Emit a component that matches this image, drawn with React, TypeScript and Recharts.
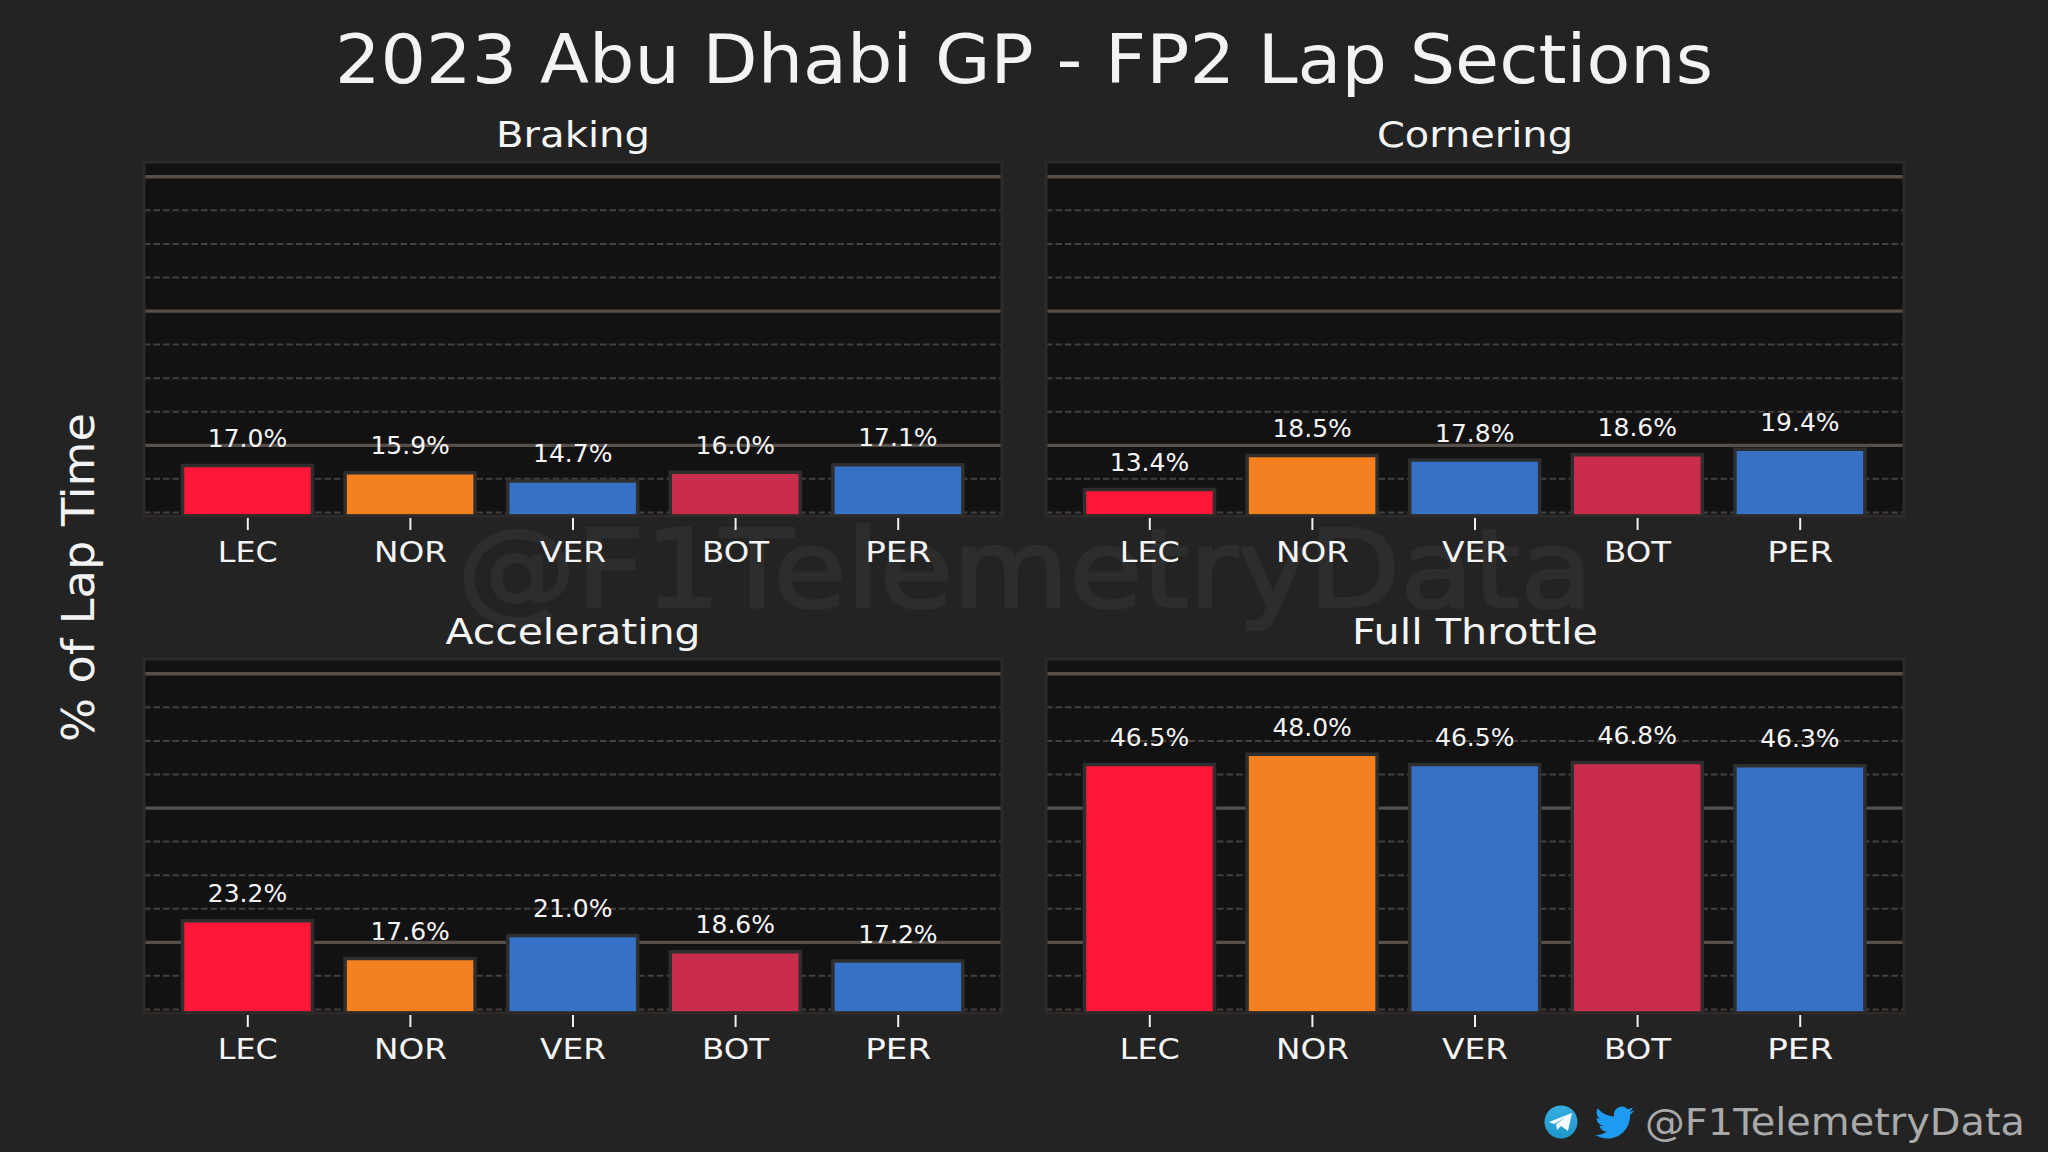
import { Bar, BarChart, CartesianGrid, Cell, LabelList, XAxis, YAxis } from "recharts";

const drivers = ["LEC", "NOR", "VER", "BOT", "PER"];
const driverColors = ["#ff1738", "#f58020", "#3671c6", "#c92d4b", "#3671c6"];

const brakingValues = [17.0, 15.9, 14.7, 16.0, 17.1];
const corneringValues = [13.4, 18.5, 17.8, 18.6, 19.4];
const acceleratingValues = [23.2, 17.6, 21.0, 18.6, 17.2];
const fullThrottleValues = [46.5, 48.0, 46.5, 46.8, 46.3];

const majorTicks = [20, 40, 60];
const minorTicks = [10, 15, 25, 30, 35, 45, 50, 55];
const yDomain = [9.47, 62.2];

const FONT = '"DejaVu Sans", sans-serif';
const PLOT_W = 858;
const PLOT_H = 354;
const PAD_X = 44;
const PAD_TOP = 20;
const AXIS_H = 70;

const tickWidths: Record<string, number> = { LEC: 60, NOR: 73, VER: 66, BOT: 67, PER: 66 };

const panels = [
  { title: "Braking", values: brakingValues, x: 144, y: 162, titleY: 147, titleW: 154 },
  { title: "Cornering", values: corneringValues, x: 1046, y: 162, titleY: 147, titleW: 196 },
  { title: "Accelerating", values: acceleratingValues, x: 144, y: 659, titleY: 643.5, titleW: 255 },
  { title: "Full Throttle", values: fullThrottleValues, x: 1046, y: 659, titleY: 643.5, titleW: 246 },
];

function DriverTick({ x, y, payload }: any) {
  const label = payload.value;
  return (
    <g>
      <line x1={x} x2={x} y1={y + 2} y2={y + 14} stroke="#f0f0f0" strokeWidth={2} />
      <text
        x={x}
        y={y + 46}
        textAnchor="middle"
        fill="#f5f5f5"
        fontSize={29}
        fontFamily={FONT}
        textLength={tickWidths[label]}
        lengthAdjust="spacingAndGlyphs"
      >
        {label}
      </text>
    </g>
  );
}

function Panel({ values, x, y }: { values: number[]; x: number; y: number }) {
  const data = drivers.map((driver, i) => ({ driver, value: values[i] }));
  return (
    <div style={{ position: "absolute", left: x - PAD_X, top: y - PAD_TOP }}>
      <BarChart
        width={PLOT_W + PAD_X * 2}
        height={PLOT_H + PAD_TOP + AXIS_H}
        data={data}
        margin={{ top: PAD_TOP, right: PAD_X, bottom: 0, left: PAD_X }}
      >
        <CartesianGrid
          vertical={false}
          horizontalValues={minorTicks}
          stroke="#45403d"
          strokeWidth={2}
          strokeDasharray="6.5 3"
          fill="#121212"
        />
        <CartesianGrid vertical={false} horizontalValues={majorTicks} stroke="#564f4a" strokeWidth={3.3} />
        <XAxis
          dataKey="driver"
          interval={0}
          height={AXIS_H}
          padding={{ left: 22.5, right: 22.5 }}
          axisLine={false}
          tickLine={false}
          tickSize={0}
          tickMargin={0}
          tick={DriverTick}
        />
        <YAxis hide type="number" domain={yDomain} allowDataOverflow />
        <Bar dataKey="value" barSize={130} stroke="#2e2e2e" strokeWidth={3.5} isAnimationActive={false}>
          {data.map((d, i) => (
            <Cell key={d.driver} fill={driverColors[i]} />
          ))}
          <LabelList
            dataKey="value"
            position="top"
            offset={18.5}
            fill="#f5f5f5"
            fontSize={25}
            fontFamily={FONT}
            formatter={(v: any) => `${v.toFixed(1)}%`}
          />
        </Bar>
      </BarChart>
    </div>
  );
}

export default function App() {
  return (
    <div style={{ position: "absolute", left: 0, top: 0, width: 2048, height: 1152, overflow: "hidden", background: "#232323" }}>
      <svg width={2048} height={1152} style={{ position: "absolute", left: 0, top: 0 }} fontFamily={FONT}>
        <defs>
          <linearGradient id="tg" x1="0" y1="0" x2="0" y2="1">
            <stop offset="0" stopColor="#37aee2" />
            <stop offset="1" stopColor="#1e96c8" />
          </linearGradient>
        </defs>
        <text
          x={1025}
          y={607}
          textAnchor="middle"
          fontSize={108}
          fill="#2d2d2d"
          stroke="#2d2d2d"
          strokeWidth={2.5}
          textLength={1136}
          lengthAdjust="spacingAndGlyphs"
        >
          @F1TelemetryData
        </text>
        <text x={1024} y={83} textAnchor="middle" fontSize={67} fill="#f3f3f5" textLength={1378} lengthAdjust="spacingAndGlyphs">
          2023 Abu Dhabi GP - FP2 Lap Sections
        </text>
        {panels.map((p) => (
          <text
            key={p.title}
            x={p.x + PLOT_W / 2}
            y={p.titleY}
            textAnchor="middle"
            fontSize={35}
            fill="#f5f5f5"
            textLength={p.titleW}
            lengthAdjust="spacingAndGlyphs"
          >
            {p.title}
          </text>
        ))}
        <text
          transform="translate(94,577.5) rotate(-90)"
          textAnchor="middle"
          fontSize={45}
          fill="#f3f3f3"
          textLength={329}
          lengthAdjust="spacingAndGlyphs"
        >
          % of Lap Time
        </text>
        <circle cx={1561} cy={1122} r={16.5} fill="url(#tg)" />
        <path d="M1549 1122 L1572 1113 L1568 1131 L1561 1126 L1557 1130 L1556 1124 L1566 1117 L1554 1124 Z" fill="#f4fbff" />
        <g transform="translate(1595,1103) scale(1.63)">
          <path
            fill="#1d9bf0"
            d="M23.953 4.57a10 10 0 01-2.825.775 4.958 4.958 0 002.163-2.723c-.951.555-2.005.959-3.127 1.184a4.92 4.92 0 00-8.384 4.482C7.69 8.095 4.067 6.13 1.64 3.162a4.822 4.822 0 00-.666 2.475c0 1.71.87 3.213 2.188 4.096a4.904 4.904 0 01-2.228-.616v.06a4.923 4.923 0 003.946 4.827 4.996 4.996 0 01-2.212.085 4.936 4.936 0 004.604 3.417 9.867 9.867 0 01-6.102 2.105c-.39 0-.779-.023-1.17-.067a13.995 13.995 0 007.557 2.209c9.053 0 13.998-7.496 13.998-13.985 0-.21 0-.42-.015-.63A9.935 9.935 0 0024 4.59z"
          />
        </g>
        <text x={1645} y={1135} fontSize={37} fill="#a9a9a9" textLength={380} lengthAdjust="spacingAndGlyphs">
          @F1TelemetryData
        </text>
      </svg>
      {panels.map((p) => (
        <Panel key={p.title} values={p.values} x={p.x} y={p.y} />
      ))}
      <svg width={2048} height={1152} style={{ position: "absolute", left: 0, top: 0, pointerEvents: "none" }}>
        {panels.map((p) => (
          <rect key={p.title} x={p.x} y={p.y} width={PLOT_W} height={PLOT_H} fill="none" stroke="#2e2a28" strokeWidth={3} />
        ))}
      </svg>
    </div>
  );
}
